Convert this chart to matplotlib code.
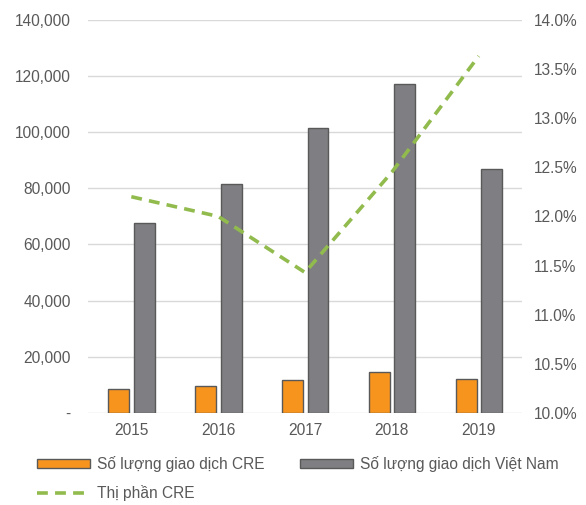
import numpy as np
import matplotlib
matplotlib.use("Agg")
import matplotlib.pyplot as plt
from matplotlib.ticker import FuncFormatter

plt.rcParams['font.family'] = ['Liberation Sans', 'DejaVu Sans']

# Data
years = ["2015", "2016", "2017", "2018", "2019"]
cre_deals = [8500, 9800, 11800, 14800, 12200]
vn_deals = [67700, 81400, 101600, 117200, 86700]
cre_share = [12.2, 12.0, 11.43, 12.45, 13.63]

textColor = "#595959"
orange = "#F7941D"
grey = "#7F7F83"
green = "#92BB4E"
fontSize = 11.2

fig = plt.figure(figsize=(5.86, 5.05), dpi=100)
ax = fig.add_axes([0.150, 0.182, 0.741, 0.779])
ax2 = ax.twinx()

x = np.arange(len(years))
barWidth = 0.24
b1 = ax.bar(x - 0.145, cre_deals, barWidth, color=orange, edgecolor="#595959", linewidth=1.0, zorder=3,
            label="Số lượng giao dịch CRE")
b2 = ax.bar(x + 0.150, vn_deals, barWidth, color=grey, edgecolor="#595959", linewidth=1.0, zorder=3,
            label="Số lượng giao dịch Việt Nam")
ln, = ax2.plot(x, cre_share, color=green, linestyle=(0, (3, 2)), linewidth=2.6, label="Thị phần CRE")

ax.set_xlim(-0.5, len(years) - 0.5)
ax.set_ylim(0, 140000)
ax.set_yticks(np.arange(0, 140001, 20000))
ax.yaxis.set_major_formatter(FuncFormatter(lambda v, p: "-" if v == 0 else f"{int(v):,}"))
ax2.set_ylim(10, 14)
ax2.set_yticks(np.arange(10, 14.01, 0.5))
ax2.yaxis.set_major_formatter(FuncFormatter(lambda v, p: f"{v:.1f}%"))
ax.set_xticks(x)
ax.set_xticklabels(years)

ax.grid(axis="y", color="#D9D9D9", linewidth=1.0, zorder=0)
ax.set_axisbelow(True)
for a in (ax, ax2):
    for s in a.spines.values():
        s.set_visible(False)
    a.tick_params(length=0, labelsize=fontSize, colors=textColor)
ax.tick_params(axis="y", pad=12.5)
ax.tick_params(axis="x", pad=7)
ax2.tick_params(axis="y", pad=8.5)

fig.legend([b1, ln, b2], [b1.get_label(), ln.get_label(), b2.get_label()],
           loc="upper left", bbox_to_anchor=(0.063, 0.097), ncol=2, frameon=False,
           fontsize=fontSize, labelcolor=textColor, handlelength=3.4, handleheight=0.6,
           handletextpad=0.45, columnspacing=2.3, labelspacing=0.85, borderaxespad=0, borderpad=0)

fig.savefig("out.png", dpi=100)
